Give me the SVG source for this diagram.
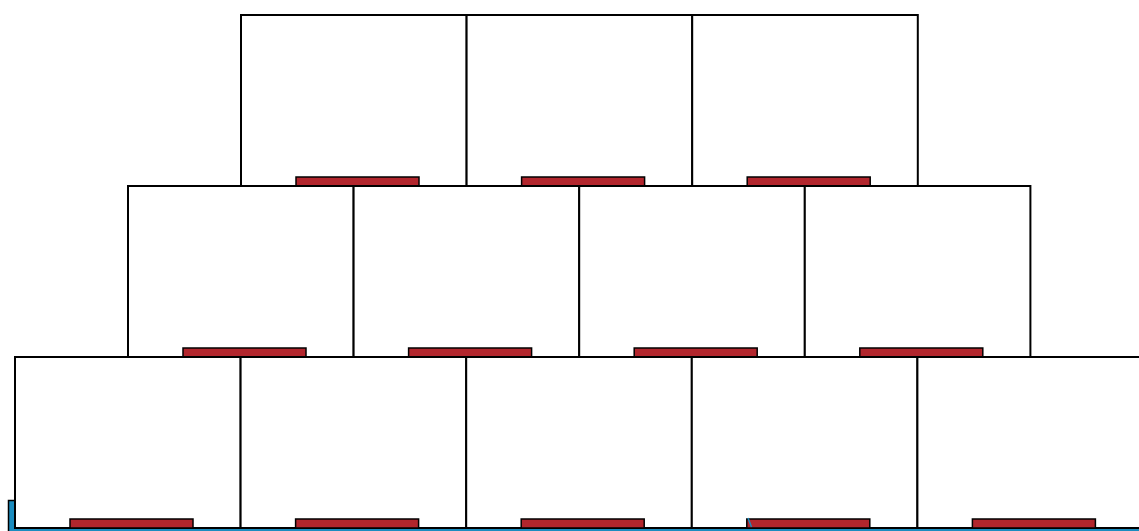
<svg xmlns="http://www.w3.org/2000/svg" width="1139" height="531" viewBox="0 0 1139 531">
<style>
.box{fill:#ffffff;stroke:#000000;stroke-width:2}
.bar{fill:#b2262d;stroke:#000000;stroke-width:1.5}
.base{fill:#1a8cbf;stroke:#000000;stroke-width:1.5}
</style>
<defs>
<g id="cell"><rect class="box" x="0" y="0" width="225.6" height="171"/><rect class="bar" x="55" y="162" width="123" height="9"/></g>
</defs>
<rect id="base" class="base" x="8.5" y="500.5" width="1200" height="40"/>
<g id="row1">
<g id="n1"><use href="#cell" x="241" y="15"/></g>
<g id="n2"><use href="#cell" x="466.6" y="15"/></g>
<g id="n3"><use href="#cell" x="692.2" y="15"/></g>
</g>
<g id="row2">
<g id="n4"><use href="#cell" x="128" y="186"/></g>
<g id="n5"><use href="#cell" x="353.6" y="186"/></g>
<g id="n6"><use href="#cell" x="579.2" y="186"/></g>
<g id="n7"><use href="#cell" x="804.8" y="186"/></g>
</g>
<g id="row3">
<g id="n8"><use href="#cell" x="15" y="357"/></g>
<g id="n9"><use href="#cell" x="240.6" y="357"/></g>
<g id="n10"><use href="#cell" x="466.2" y="357"/></g>
<g id="n11"><use href="#cell" x="691.8" y="357"/></g>
<g id="n12"><use href="#cell" x="917.4" y="357"/></g>
</g>
<g id="connectors">
<line x1="748" y1="518" x2="751.5" y2="527" stroke="#1a8cbf" stroke-width="1.5"/>
</g>
</svg>
